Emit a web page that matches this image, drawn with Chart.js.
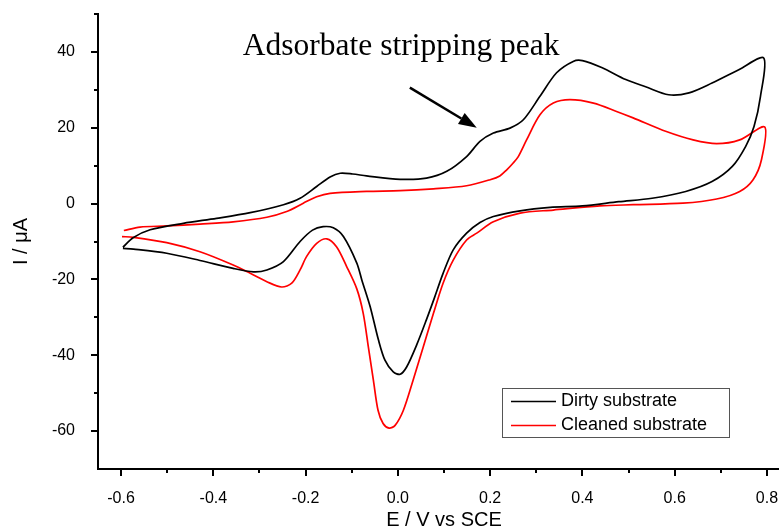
<!DOCTYPE html>
<html>
<head>
<meta charset="utf-8">
<title>Cyclic voltammogram</title>
<script src="https://cdn.jsdelivr.net/npm/chart.js@4"></script>
<style>
  html, body { margin: 0; padding: 0; background: #fff; overflow: hidden; }
</style>
</head>
<body>
<canvas id="cv" width="800" height="530"></canvas>
<script>
// Dirty substrate: anodic sweep to 0.8 V, then back to -0.6 V
const dirtyE = [
  -0.596, -0.574, -0.537, -0.465, -0.393, -0.320, -0.248, -0.212, -0.176, -0.147,
  -0.125, -0.098, -0.068, 0.005, 0.062, 0.106, 0.149, 0.178, 0.207, 0.243,
  0.272, 0.308, 0.344, 0.380, 0.400, 0.443, 0.494, 0.537, 0.587, 0.631,
  0.681, 0.739, 0.793,
  0.786, 0.772, 0.754, 0.725, 0.681, 0.624, 0.551, 0.479, 0.400, 0.330,
  0.265, 0.207, 0.178, 0.149, 0.120, 0.098, 0.080, 0.062, 0.041, 0.019,
  0.005, -0.010, -0.028, -0.042, -0.060, -0.078, -0.089, -0.118, -0.140, -0.162,
  -0.185, -0.212, -0.248, -0.284, -0.313, -0.357, -0.429, -0.501, -0.573, -0.596
];
const dirtyI = [
  -11.5, -9.0, -6.9, -5.2, -3.9, -2.4, -0.3, 1.4, 4.5, 7.0,
  8.0, 7.8, 7.3, 6.4, 6.7, 8.5, 12.4, 16.4, 18.6, 19.9,
  22.1, 28.3, 34.5, 37.5, 37.7, 35.8, 32.7, 30.8, 28.7, 29.2,
  31.8, 35.3, 38.4,
  28.3, 20.3, 15.1, 9.8, 5.8, 3.2, 1.4, 0.5, -0.6, -1.0,
  -1.9, -3.4, -5.0, -7.8, -12.2, -18.4, -24.6, -30.6, -37.2, -43.1,
  -45.0, -44.4, -41.3, -36.0, -27.2, -20.2, -15.7, -8.7, -6.4, -6.1,
  -7.0, -10.0, -15.3, -17.5, -18.0, -17.1, -15.0, -13.1, -12.0, -11.8
];

// Cleaned substrate
const cleanE = [
  -0.594, -0.559, -0.501, -0.429, -0.357, -0.284, -0.241, -0.205, -0.176, -0.147,
  -0.068, 0.005, 0.077, 0.149, 0.200, 0.221, 0.236, 0.250, 0.261, 0.279,
  0.308, 0.337, 0.373, 0.424, 0.474, 0.510, 0.582, 0.640, 0.691, 0.741, 0.795,
  0.788, 0.770, 0.741, 0.691, 0.618, 0.510, 0.438, 0.337, 0.265, 0.207,
  0.171, 0.149, 0.120, 0.098, 0.077, 0.055, 0.033, 0.012, -0.006, -0.019,
  -0.032, -0.043, -0.053, -0.064, -0.075, -0.089, -0.111, -0.133, -0.154, -0.176,
  -0.198, -0.212, -0.230, -0.252, -0.284, -0.320, -0.357, -0.429, -0.501, -0.573, -0.598
];
const cleanI = [
  -7.1, -6.2, -5.9, -5.4, -4.8, -3.6, -2.1, 0.1, 1.8, 2.7,
  3.2, 3.4, 3.9, 4.7, 6.3, 7.3, 8.9, 10.7, 12.4, 16.8,
  23.4, 26.5, 27.4, 26.5, 24.3, 22.6, 19.0, 16.8, 15.8, 16.8, 20.2,
  11.5, 6.3, 3.2, 1.2, 0.1, -0.3, -0.6, -1.7, -2.5, -4.8,
  -7.8, -9.6, -14.9, -21.0, -29.0, -37.8, -46.6, -54.5, -58.5, -59.2,
  -58.0, -54.5, -46.6, -37.8, -29.0, -22.5, -16.6, -11.4, -9.3, -10.5,
  -14.0, -17.5, -21.0, -22.0, -20.6, -18.4, -16.2, -12.7, -10.3, -8.9, -8.7
];

const seriesNames = ['Dirty substrate', 'Cleaned substrate'];
const seriesColors = ['#000000', '#ff0000'];

const xTicks = [-0.6, -0.5, -0.4, -0.3, -0.2, -0.1, 0.0, 0.1, 0.2, 0.3, 0.4, 0.5, 0.6, 0.7, 0.8];
const xMajor = [-0.6, -0.4, -0.2, 0.0, 0.2, 0.4, 0.6, 0.8];
const yTicks = [-60, -50, -40, -30, -20, -10, 0, 10, 20, 30, 40, 50];
const yMajor = [-60, -40, -20, 0, 20, 40];

const annotText = 'Adsorbate stripping peak';
const annotAt = [-0.336, 39.3];
const arrowFrom = [0.026, 30.6];
const arrowTo = [0.171, 20.0];

const SANS = '"Liberation Sans", Arial, sans-serif';
const SERIF = '"Liberation Serif", "Times New Roman", serif';

function toPoints(xs, ys) {
    return xs.map((x, i) => ({ x: x, y: ys[i] }));
}
function isMajor(list, v) {
    return list.some(m => Math.abs(m - v) < 1e-6);
}

// tick marks (major long, minor short), legend box and the annotation
const decorPlugin = {
    id: 'decor',
    afterDraw(chart) {
        const ctx = chart.ctx;
        const xs = chart.scales.x, ys = chart.scales.y;
        const area = chart.chartArea;
        ctx.save();
        ctx.strokeStyle = '#000';
        ctx.lineWidth = 2;
        ctx.beginPath();
        xTicks.forEach(v => {
            const px = Math.round(xs.getPixelForValue(v));
            const len = isMajor(xMajor, v) ? 7 : 4;
            ctx.moveTo(px, area.bottom);
            ctx.lineTo(px, area.bottom + len);
        });
        yTicks.forEach(v => {
            const py = Math.round(ys.getPixelForValue(v));
            const len = isMajor(yMajor, v) ? 7 : 4;
            ctx.moveTo(area.left, py);
            ctx.lineTo(area.left - len, py);
        });
        ctx.stroke();

        // legend
        ctx.lineWidth = 1;
        ctx.strokeStyle = '#555';
        ctx.strokeRect(502.5, 388.5, 227, 49);
        ctx.font = '18px ' + SANS;
        ctx.textBaseline = 'middle';
        ctx.fillStyle = '#000';
        seriesNames.forEach((name, i) => {
            const y = 401.5 + i * 24;
            ctx.strokeStyle = seriesColors[i];
            ctx.lineWidth = 1.5;
            ctx.beginPath();
            ctx.moveTo(511, y);
            ctx.lineTo(556, y);
            ctx.stroke();
            ctx.fillText(name, 561, y);
        });

        // annotation text + arrow
        ctx.font = '31.5px ' + SERIF;
        ctx.textBaseline = 'alphabetic';
        ctx.fillText(annotText, xs.getPixelForValue(annotAt[0]), ys.getPixelForValue(annotAt[1]));

        const x0 = xs.getPixelForValue(arrowFrom[0]), y0 = ys.getPixelForValue(arrowFrom[1]);
        const x1 = xs.getPixelForValue(arrowTo[0]), y1 = ys.getPixelForValue(arrowTo[1]);
        const ang = Math.atan2(y1 - y0, x1 - x0);
        const headLen = 18, headHalf = 6.5;
        const bx = x1 - headLen * Math.cos(ang), by = y1 - headLen * Math.sin(ang);
        ctx.strokeStyle = '#000';
        ctx.lineWidth = 2.5;
        ctx.beginPath();
        ctx.moveTo(x0, y0);
        ctx.lineTo(bx, by);
        ctx.stroke();
        ctx.beginPath();
        ctx.moveTo(x1, y1);
        ctx.lineTo(bx + headHalf * Math.sin(ang), by - headHalf * Math.cos(ang));
        ctx.lineTo(bx - headHalf * Math.sin(ang), by + headHalf * Math.cos(ang));
        ctx.closePath();
        ctx.fill();
        ctx.restore();
    }
};

const ctx = document.getElementById('cv').getContext('2d');
new Chart(ctx, {
    type: 'scatter',
    data: {
        datasets: [
            {
                label: seriesNames[0],
                data: toPoints(dirtyE, dirtyI),
                showLine: true,
                borderColor: seriesColors[0],
                borderWidth: 1.7,
                pointRadius: 0,
                tension: 0.3,
                fill: false
            },
            {
                label: seriesNames[1],
                data: toPoints(cleanE, cleanI),
                showLine: true,
                borderColor: seriesColors[1],
                borderWidth: 1.7,
                pointRadius: 0,
                tension: 0.3,
                fill: false
            }
        ]
    },
    options: {
        responsive: false,
        animation: false,
        devicePixelRatio: 1,
        layout: { padding: { top: 14, right: 10, left: 0, bottom: 0 } },
        plugins: { legend: { display: false }, tooltip: { enabled: false } },
        scales: {
            x: {
                type: 'linear',
                min: -0.65,
                max: 0.85,
                afterFit(s) { s.height = 61; },
                afterBuildTicks(s) { s.ticks = xTicks.map(v => ({ value: v })); },
                grid: { display: false },
                border: { display: true, color: '#000', width: 2 },
                ticks: {
                    autoSkip: false,
                    maxRotation: 0,
                    padding: 12,
                    color: '#000',
                    font: { family: SANS, size: 16 },
                    callback: v => isMajor(xMajor, v) ? v.toFixed(1) : ''
                },
                title: {
                    display: true,
                    text: 'E / V vs SCE',
                    color: '#000',
                    font: { family: SANS, size: 20, lineHeight: 1 },
                    padding: { top: 0, bottom: 0 }
                }
            },
            y: {
                type: 'linear',
                min: -70,
                max: 50,
                afterFit(s) {
                    s.width = 98;
                    s.paddingTop = 0;
                    s.paddingBottom = 0;
                },
                afterBuildTicks(s) { s.ticks = yTicks.map(v => ({ value: v })); },
                grid: { display: false },
                border: { display: true, color: '#000', width: 2 },
                ticks: {
                    autoSkip: false,
                    padding: 15,
                    color: '#000',
                    font: { family: SANS, size: 16 },
                    callback: v => isMajor(yMajor, v) ? String(v) : ''
                },
                title: {
                    display: true,
                    text: 'I / μA',
                    color: '#000',
                    font: { family: SANS, size: 20, lineHeight: 1 },
                    padding: { top: 11, bottom: 0 }
                }
            }
        }
    },
    plugins: [decorPlugin]
});
</script>
</body>
</html>
